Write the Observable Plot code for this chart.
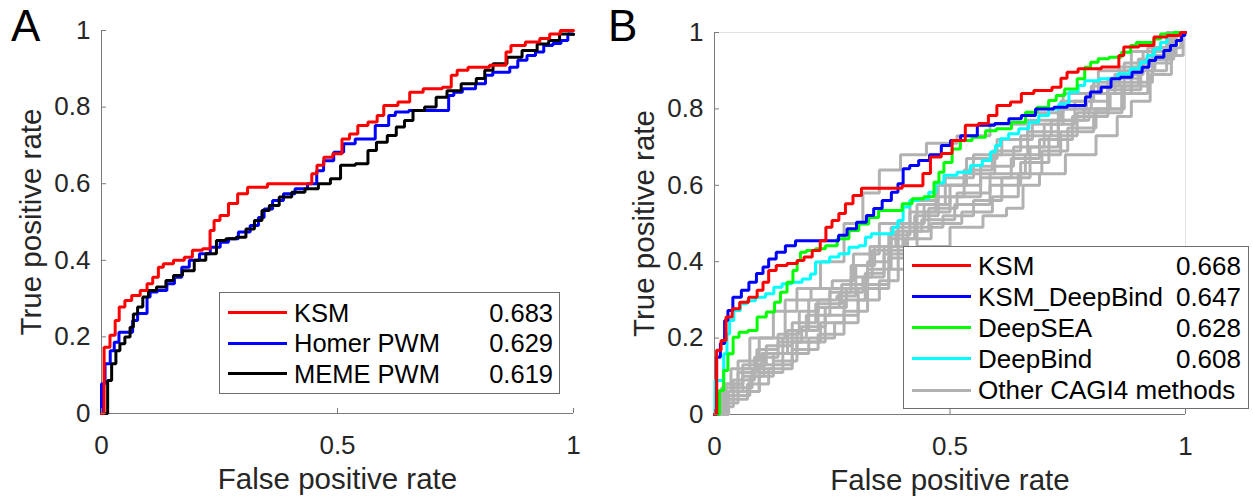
<!DOCTYPE html>
<html><head><meta charset="utf-8">
<script src="https://cdn.jsdelivr.net/npm/d3@7"></script>
<script src="https://cdn.jsdelivr.net/npm/@observablehq/plot@0.6"></script>
<style>
html,body{margin:0;padding:0;background:#fff;}
#root{position:relative;width:1253px;height:502px;overflow:hidden;font-family:"Liberation Sans",Arial,Helvetica,sans-serif;}
.panel{position:absolute;top:0;}
.letter{position:absolute;font-size:44px;line-height:44px;color:#000;}
.legend{position:absolute;border:1px solid #6e6e6e;background:#fff;box-sizing:border-box;}
.row{position:absolute;height:30px;line-height:30px;white-space:nowrap;color:#000;}
.sw{position:absolute;height:3px;}
</style></head>
<body><div id="root"></div>
<script>
// ---------- data ----------
const xTicks = [0, 0.5, 1];
const yTicks = [0, 0.2, 0.4, 0.6, 0.8, 1];
const xLabel = "False positive rate";
const yLabel = "True positive rate";

const namesA = ["KSM", "Homer PWM", "MEME PWM"];
const aucA = ["0.683", "0.629", "0.619"];
const namesB = ["KSM", "KSM_DeepBind", "DeepSEA", "DeepBind", "Other CAGI4 methods"];
const aucB = ["0.668", "0.647", "0.628", "0.608", ""];

const A_KSM = [[0,0],[0.011,0.173],[0.025,0.204],[0.033,0.243],[0.042,0.278],[0.057,0.295],[0.071,0.308],[0.093,0.321],[0.1,0.339],[0.117,0.356],[0.124,0.382],[0.138,0.391],[0.167,0.4],[0.184,0.408],[0.201,0.426],[0.227,0.43],[0.233,0.478],[0.244,0.504],[0.258,0.517],[0.28,0.548],[0.297,0.574],[0.322,0.591],[0.381,0.6],[0.442,0.6],[0.449,0.626],[0.464,0.648],[0.478,0.669],[0.502,0.678],[0.517,0.717],[0.534,0.73],[0.552,0.752],[0.577,0.761],[0.591,0.778],[0.605,0.804],[0.651,0.813],[0.655,0.839],[0.708,0.848],[0.736,0.852],[0.746,0.883],[0.761,0.896],[0.792,0.904],[0.852,0.909],[0.862,0.944],[0.873,0.961],[0.923,0.97],[0.934,0.979],[0.965,0.991],[0.979,1],[1,1]];
const A_Homer = [[0,0],[0,0.078],[0.015,0.13],[0.022,0.164],[0.032,0.186],[0.042,0.212],[0.061,0.212],[0.071,0.243],[0.082,0.261],[0.093,0.261],[0.1,0.304],[0.106,0.317],[0.131,0.321],[0.146,0.339],[0.163,0.356],[0.177,0.382],[0.195,0.4],[0.22,0.417],[0.241,0.434],[0.262,0.447],[0.276,0.456],[0.304,0.474],[0.326,0.491],[0.339,0.512],[0.35,0.534],[0.375,0.556],[0.396,0.574],[0.424,0.587],[0.449,0.6],[0.463,0.634],[0.478,0.66],[0.506,0.682],[0.52,0.704],[0.555,0.717],[0.605,0.752],[0.612,0.778],[0.633,0.787],[0.669,0.791],[0.732,0.791],[0.739,0.83],[0.754,0.839],[0.775,0.848],[0.81,0.861],[0.817,0.883],[0.841,0.891],[0.86,0.891],[0.87,0.904],[0.894,0.922],[0.909,0.935],[0.93,0.944],[0.944,0.961],[0.968,0.966],[0.979,0.974],[0.997,0.991],[1,0.99]];
const A_MEME = [[0,0],[0.008,0],[0.018,0.086],[0.025,0.13],[0.036,0.164],[0.042,0.182],[0.057,0.2],[0.064,0.225],[0.071,0.26],[0.082,0.278],[0.093,0.304],[0.106,0.321],[0.127,0.33],[0.146,0.347],[0.159,0.36],[0.184,0.373],[0.209,0.4],[0.233,0.417],[0.254,0.452],[0.273,0.456],[0.297,0.46],[0.315,0.482],[0.333,0.504],[0.347,0.53],[0.364,0.543],[0.389,0.565],[0.417,0.578],[0.445,0.587],[0.474,0.6],[0.496,0.613],[0.517,0.648],[0.559,0.652],[0.57,0.687],[0.595,0.708],[0.616,0.726],[0.633,0.748],[0.651,0.765],[0.669,0.791],[0.7,0.8],[0.718,0.826],[0.746,0.843],[0.778,0.861],[0.81,0.875],[0.814,0.896],[0.845,0.913],[0.873,0.93],[0.909,0.948],[0.937,0.965],[0.958,0.974],[0.983,0.991],[1,0.99]];

const B_KSM = [[0,0],[0.009,0.168],[0.019,0.194],[0.03,0.255],[0.045,0.277],[0.062,0.294],[0.083,0.307],[0.098,0.325],[0.108,0.346],[0.122,0.377],[0.14,0.39],[0.168,0.395],[0.183,0.403],[0.197,0.412],[0.218,0.429],[0.231,0.455],[0.242,0.49],[0.257,0.508],[0.271,0.526],[0.285,0.552],[0.303,0.573],[0.321,0.592],[0.388,0.592],[0.409,0.599],[0.437,0.599],[0.448,0.631],[0.469,0.674],[0.494,0.683],[0.515,0.717],[0.55,0.757],[0.571,0.762],[0.592,0.783],[0.607,0.809],[0.65,0.818],[0.653,0.84],[0.703,0.848],[0.73,0.857],[0.741,0.88],[0.756,0.896],[0.788,0.905],[0.855,0.91],[0.862,0.94],[0.876,0.962],[0.926,0.966],[0.94,0.988],[0.982,0.992],[0.996,1],[1,1]];
const B_KSM_DeepBind = [[0,0],[0.009,0.15],[0.016,0.186],[0.027,0.246],[0.03,0.272],[0.048,0.307],[0.066,0.325],[0.08,0.346],[0.098,0.369],[0.108,0.386],[0.122,0.407],[0.14,0.425],[0.161,0.442],[0.183,0.455],[0.253,0.455],[0.274,0.469],[0.289,0.486],[0.314,0.503],[0.331,0.521],[0.345,0.539],[0.367,0.56],[0.384,0.582],[0.395,0.604],[0.406,0.643],[0.423,0.652],[0.444,0.665],[0.469,0.68],[0.494,0.704],[0.508,0.717],[0.537,0.73],[0.579,0.757],[0.611,0.762],[0.639,0.774],[0.664,0.783],[0.699,0.8],[0.742,0.804],[0.756,0.809],[0.784,0.809],[0.791,0.831],[0.805,0.844],[0.837,0.857],[0.847,0.879],[0.876,0.883],[0.897,0.896],[0.919,0.909],[0.926,0.927],[0.947,0.935],[0.961,0.953],[0.975,0.966],[0.986,0.979],[0.997,0.992],[1,1]];
const B_DeepSEA = [[0,0],[0.005,0],[0.016,0.063],[0.023,0.115],[0.034,0.159],[0.045,0.202],[0.059,0.215],[0.083,0.22],[0.098,0.255],[0.122,0.268],[0.133,0.294],[0.147,0.32],[0.161,0.346],[0.172,0.377],[0.179,0.403],[0.186,0.425],[0.204,0.429],[0.225,0.434],[0.246,0.442],[0.275,0.46],[0.296,0.482],[0.317,0.499],[0.338,0.516],[0.359,0.534],[0.388,0.534],[0.409,0.552],[0.43,0.565],[0.459,0.57],[0.473,0.608],[0.48,0.634],[0.494,0.66],[0.515,0.695],[0.529,0.717],[0.565,0.726],[0.586,0.743],[0.611,0.748],[0.65,0.765],[0.671,0.791],[0.699,0.804],[0.72,0.822],[0.731,0.835],[0.756,0.852],[0.784,0.879],[0.788,0.909],[0.809,0.922],[0.82,0.931],[0.855,0.935],[0.873,0.948],[0.894,0.966],[0.897,0.974],[0.926,0.974],[0.94,0.983],[0.954,0.996],[0.997,1],[1,1]];
const B_DeepBind = [[0,0],[0.002,0.089],[0.016,0.089],[0.023,0.159],[0.03,0.211],[0.034,0.246],[0.048,0.272],[0.062,0.29],[0.076,0.298],[0.098,0.307],[0.119,0.316],[0.133,0.333],[0.154,0.342],[0.175,0.346],[0.197,0.355],[0.211,0.368],[0.218,0.399],[0.236,0.399],[0.253,0.412],[0.275,0.421],[0.296,0.438],[0.317,0.442],[0.324,0.464],[0.342,0.473],[0.374,0.473],[0.384,0.49],[0.395,0.508],[0.406,0.543],[0.423,0.56],[0.444,0.565],[0.466,0.582],[0.473,0.606],[0.501,0.626],[0.529,0.634],[0.558,0.652],[0.579,0.665],[0.593,0.687],[0.6,0.704],[0.614,0.722],[0.635,0.735],[0.657,0.748],[0.678,0.765],[0.699,0.783],[0.72,0.8],[0.742,0.813],[0.763,0.844],[0.781,0.861],[0.791,0.874],[0.844,0.879],[0.869,0.892],[0.897,0.905],[0.911,0.922],[0.926,0.94],[0.94,0.957],[0.954,0.974],[0.968,0.992],[0.989,1],[1,1]];

const B_other = [
 [[0,0],[0.02,0.06],[0.05,0.12],[0.1,0.2],[0.15,0.27],[0.2,0.33],[0.25,0.4],[0.3,0.5],[0.33,0.58],[0.37,0.64],[0.42,0.68],[0.48,0.71],[0.55,0.73],[0.62,0.76],[0.7,0.79],[0.78,0.84],[0.85,0.9],[0.92,0.95],[1,1]],
 [[0,0],[0.03,0.07],[0.07,0.14],[0.12,0.2],[0.18,0.3],[0.23,0.33],[0.27,0.35],[0.32,0.42],[0.38,0.5],[0.45,0.56],[0.5,0.6],[0.57,0.67],[0.63,0.72],[0.7,0.77],[0.77,0.82],[0.84,0.87],[0.9,0.92],[0.96,0.96],[1,1]],
 [[0,0],[0.04,0.06],[0.08,0.1],[0.13,0.16],[0.18,0.22],[0.22,0.3],[0.27,0.32],[0.31,0.36],[0.36,0.43],[0.42,0.5],[0.47,0.55],[0.53,0.6],[0.6,0.65],[0.67,0.7],[0.73,0.76],[0.8,0.82],[0.87,0.88],[0.93,0.93],[1,1]],
 [[0,0],[0.05,0.05],[0.1,0.1],[0.15,0.14],[0.2,0.19],[0.25,0.24],[0.3,0.3],[0.34,0.37],[0.38,0.44],[0.42,0.5],[0.47,0.53],[0.53,0.57],[0.6,0.62],[0.66,0.67],[0.72,0.72],[0.8,0.78],[0.87,0.85],[0.94,0.92],[1,1]],
 [[0,0],[0.06,0.06],[0.13,0.13],[0.2,0.19],[0.27,0.26],[0.34,0.33],[0.4,0.38],[0.46,0.44],[0.54,0.49],[0.6,0.52],[0.64,0.54],[0.67,0.6],[0.71,0.63],[0.78,0.68],[0.84,0.73],[0.87,0.78],[0.9,0.82],[0.95,0.89],[0.99,0.94],[1,1]],
 [[0,0],[0.02,0.04],[0.06,0.09],[0.11,0.15],[0.16,0.19],[0.21,0.23],[0.26,0.28],[0.3,0.33],[0.35,0.38],[0.4,0.46],[0.45,0.52],[0.5,0.57],[0.56,0.63],[0.63,0.68],[0.7,0.74],[0.76,0.8],[0.82,0.84],[0.88,0.89],[0.94,0.95],[1,1]],
 [[0,0],[0.03,0.05],[0.07,0.11],[0.11,0.17],[0.16,0.21],[0.2,0.27],[0.24,0.3],[0.28,0.31],[0.32,0.39],[0.36,0.44],[0.41,0.48],[0.47,0.51],[0.55,0.55],[0.62,0.6],[0.68,0.66],[0.74,0.73],[0.8,0.79],[0.87,0.86],[0.93,0.93],[1,1]],
 [[0,0],[0.04,0.08],[0.08,0.13],[0.14,0.18],[0.19,0.24],[0.24,0.29],[0.3,0.34],[0.35,0.4],[0.39,0.47],[0.44,0.53],[0.5,0.6],[0.56,0.64],[0.62,0.69],[0.68,0.73],[0.75,0.77],[0.82,0.8],[0.86,0.84],[0.91,0.9],[0.96,0.96],[1,1]],
 [[0,0],[0.05,0.04],[0.09,0.08],[0.14,0.12],[0.19,0.17],[0.25,0.21],[0.3,0.27],[0.35,0.34],[0.39,0.41],[0.43,0.48],[0.48,0.54],[0.55,0.58],[0.62,0.63],[0.7,0.68],[0.77,0.74],[0.84,0.79],[0.89,0.86],[0.95,0.93],[1,1]],
 [[0,0],[0.01,0.03],[0.04,0.08],[0.08,0.12],[0.12,0.16],[0.17,0.2],[0.22,0.26],[0.27,0.33],[0.31,0.39],[0.35,0.44],[0.4,0.49],[0.46,0.55],[0.52,0.62],[0.58,0.68],[0.64,0.72],[0.71,0.76],[0.77,0.8],[0.83,0.86],[0.89,0.91],[0.95,0.96],[1,1]],
 [[0,0],[0.02,0.02],[0.06,0.07],[0.1,0.12],[0.15,0.16],[0.2,0.22],[0.24,0.28],[0.29,0.32],[0.34,0.36],[0.38,0.42],[0.43,0.46],[0.49,0.5],[0.56,0.53],[0.62,0.57],[0.67,0.63],[0.72,0.69],[0.78,0.75],[0.84,0.8],[0.9,0.87],[0.96,0.94],[1,1]],
 [[0,0],[0.03,0.03],[0.07,0.06],[0.12,0.11],[0.17,0.16],[0.23,0.2],[0.28,0.24],[0.33,0.3],[0.37,0.35],[0.41,0.43],[0.45,0.49],[0.52,0.52],[0.58,0.56],[0.64,0.62],[0.7,0.7],[0.76,0.77],[0.83,0.8],[0.9,0.84],[0.94,0.9],[0.98,0.96],[1,1]]
];

// ---------- styling ----------
const FONT = '"Liberation Sans", Arial, Helvetica, sans-serif';
const axisColor = "#7a7a7a";
const textColor = "#262626";
const grey = "#b2b2b2";
const colorsA = ["#ff0000", "#0000ff", "#000000"];
const colorsB = ["#ff0000", "#0000ff", "#00ff00", "#00ffff", grey];

function makePanel({layers, width, marginLeft, marginRight, marginTop, marginBottom, box}) {
  const marks = [];
  if (box) {
    marks.push(Plot.ruleY([1], {stroke: "#e2e2e2"}));
    marks.push(Plot.ruleX([1], {stroke: "#e2e2e2"}));
  }
  marks.push(Plot.ruleY([0], {stroke: axisColor}));
  marks.push(Plot.ruleX([0], {stroke: axisColor}));
  for (const L of layers) {
    marks.push(Plot.line(L.data, {x: d => d[0], y: d => d[1], stroke: L.color, strokeWidth: 3, curve: "step", strokeLinejoin: "miter"}));
  }
  marks.push(Plot.axisX({ticks: xTicks, tickSize: -5, tickPadding: 27, tickFormat: d => String(d), fontSize: 26, stroke: axisColor, fill: textColor, label: null}));
  marks.push(Plot.axisY({ticks: yTicks, tickSize: -5, tickPadding: 16, tickFormat: d => String(d), fontSize: 26, stroke: axisColor, fill: textColor, label: null}));
  marks.push(Plot.text([xLabel], {text: d => d, frameAnchor: "bottom", dy: 75, lineAnchor: "bottom", textAnchor: "middle", fontSize: 29.5, fill: textColor}));
  marks.push(Plot.text([yLabel], {text: d => d, frameAnchor: "left", dx: -61, rotate: -90, lineAnchor: "bottom", textAnchor: "middle", fontSize: 29.5, fill: textColor}));
  return Plot.plot({
    width, height: 502, marginLeft, marginRight, marginTop, marginBottom,
    x: {domain: [0, 1]}, y: {domain: [0, 1]},
    style: {fontFamily: FONT, background: "transparent", overflow: "visible"},
    marks
  });
}

const root = document.getElementById("root");

const layersA = [
  {data: A_Homer, color: colorsA[1]},
  {data: A_MEME, color: colorsA[2]},
  {data: A_KSM, color: colorsA[0]}
];
const layersB = [
  ...B_other.map(d => ({data: d, color: grey})),
  {data: B_DeepBind, color: colorsB[3]},
  {data: B_DeepSEA, color: colorsB[2]},
  {data: B_KSM_DeepBind, color: colorsB[1]},
  {data: B_KSM, color: colorsB[0]}
];

const pA = makePanel({layers: layersA, width: 620, marginLeft: 101, marginRight: 47, marginTop: 30, marginBottom: 89, box: false});
pA.classList.add("panel"); pA.style.left = "0px";
root.appendChild(pA);

const pB = makePanel({layers: layersB, width: 640, marginLeft: 101, marginRight: 68, marginTop: 32, marginBottom: 88, box: true});
pB.classList.add("panel"); pB.style.left = "613px";
root.appendChild(pB);

function letter(t, x, y) {
  const d = document.createElement("div");
  d.className = "letter"; d.textContent = t;
  d.style.left = x + "px"; d.style.top = y + "px";
  root.appendChild(d);
}
letter("A", 11, 4);
letter("B", 608, 4);

function legend({left, top, width, height, names, aucs, colors, rowY, swX1, swX2, textX, valRight, fontSize}) {
  const box = document.createElement("div");
  box.className = "legend";
  Object.assign(box.style, {left: left + "px", top: top + "px", width: width + "px", height: height + "px"});
  names.forEach((n, i) => {
    const cy = rowY[i] - top - 1;
    const sw = document.createElement("div");
    sw.className = "sw";
    Object.assign(sw.style, {left: (swX1 - left - 1) + "px", width: (swX2 - swX1) + "px", top: (cy - 1.5) + "px", background: colors[i]});
    box.appendChild(sw);
    const t = document.createElement("div");
    t.className = "row"; t.textContent = n;
    Object.assign(t.style, {left: (textX - left - 1) + "px", top: (cy - 15) + "px", fontSize: fontSize + "px"});
    box.appendChild(t);
    if (aucs[i]) {
      const v = document.createElement("div");
      v.className = "row"; v.textContent = aucs[i];
      Object.assign(v.style, {right: (left + width - valRight - 1) + "px", top: (cy - 15) + "px", fontSize: fontSize + "px", textAlign: "right"});
      box.appendChild(v);
    }
  });
  root.appendChild(box);
}

legend({left: 219, top: 292, width: 341, height: 102, names: namesA, aucs: aucA, colors: colorsA,
  rowY: [312.5, 343, 373.5], swX1: 228, swX2: 287, textX: 294, valRight: 553, fontSize: 25.5});
legend({left: 903, top: 246, width: 346, height: 163, names: namesB, aucs: aucB, colors: colorsB,
  rowY: [265.5, 296.5, 327.5, 358.5, 390], swX1: 912, swX2: 971, textX: 978, valRight: 1241, fontSize: 26});
</script>
</body></html>
